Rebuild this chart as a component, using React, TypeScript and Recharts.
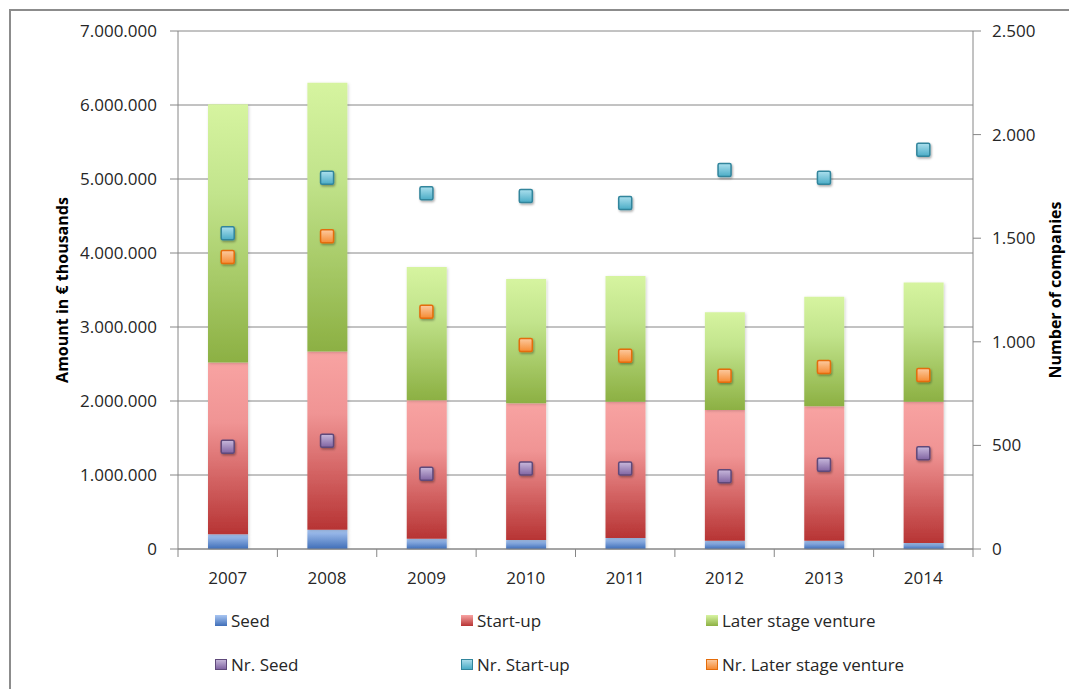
import { ComposedChart, Bar, Scatter, XAxis, YAxis, CartesianGrid, Legend, Label } from "recharts";

const years = ["2007", "2008", "2009", "2010", "2011", "2012", "2013", "2014"];
const seedAmount = [200000, 260000, 140000, 120000, 150000, 110000, 110000, 80000];
const startupAmount = [2320000, 2410000, 1870000, 1850000, 1840000, 1770000, 1820000, 1910000];
const laterAmount = [3490000, 3630000, 1800000, 1680000, 1700000, 1320000, 1480000, 1610000];
const nrSeed = [494, 523, 363, 388, 388, 351, 407, 462];
const nrStartup = [1524, 1792, 1717, 1704, 1670, 1829, 1792, 1927];
const nrLater = [1409, 1509, 1145, 985, 933, 836, 878, 840];
const amountTicks = [0, 1000000, 2000000, 3000000, 4000000, 5000000, 6000000, 7000000];
const countTicks = [0, 500, 1000, 1500, 2000, 2500];
const legendOrder = ["Seed", "Start-up", "Later stage venture", "Nr. Seed", "Nr. Start-up", "Nr. Later stage venture"];

const data = years.map((year, i) => ({
  year,
  seed: seedAmount[i],
  startup: startupAmount[i],
  later: laterAmount[i],
  nrSeed: nrSeed[i],
  nrStartup: nrStartup[i],
  nrLater: nrLater[i],
}));

const W = 1058;
const H = 678;
const PLOT_LEFT = 167;
const PLOT_RIGHT = 962;
const BAND = (PLOT_RIGHT - PLOT_LEFT) / years.length;
const AXIS = "#868686";
const TEXT = "#262626";
const FONT = "'Open Sans', sans-serif";

const dots = (v: number) => String(v).replace(/\B(?=(\d{3})+(?!\d))/g, ".");

const XTick = (props: any) => {
  const { x, y, payload, index } = props;
  const half = BAND / 2;
  return (
    <g>
      <line x1={x - half} x2={x - half} y1={y} y2={y + 8} stroke={AXIS} />
      {index === years.length - 1 && <line x1={x + half} x2={x + half} y1={y} y2={y + 8} stroke={AXIS} />}
      <text x={x} y={y + 35} textAnchor="middle" fontSize={17} fill={TEXT} fontFamily={FONT}>
        {payload.value}
      </text>
    </g>
  );
};

const makeMarker = (grad: string, stroke: string) => (props: any) => {
  const { cx, cy } = props;
  return (
    <rect x={cx - 6.5} y={cy - 6.5} width={13} height={13} rx={1.5} fill={`url(#${grad})`} stroke={stroke} strokeWidth={1.5} filter="url(#mshadow)" />
  );
};

const legendLook: Record<string, { bg: string; border: string }> = {
  Seed: { bg: "linear-gradient(#a9c6f2, #3f6eb8)", border: "none" },
  "Start-up": { bg: "linear-gradient(#f8a4a3, #b73434)", border: "none" },
  "Later stage venture": { bg: "linear-gradient(#d8f4a2, #8cb043)", border: "none" },
  "Nr. Seed": { bg: "linear-gradient(#c4b5d8, #8064a2)", border: "1px solid #5f497a" },
  "Nr. Start-up": { bg: "linear-gradient(#a8dcea, #4bacc6)", border: "1px solid #31859c" },
  "Nr. Later stage venture": { bg: "linear-gradient(#fbc89c, #f68b33)", border: "1px solid #e46c0a" },
};
const legendCols = [204, 450, 695];
const legendRows = [609, 653];

const LegendContent = (props: any) => {
  const items = [...(props.payload || [])].sort((a: any, b: any) => legendOrder.indexOf(a.value) - legendOrder.indexOf(b.value));
  return (
    <div style={{ position: "relative", width: W, height: 0 }}>
      {items.map((it: any, i: number) => {
        const look = legendLook[it.value] || { bg: it.color, border: "none" };
        return (
          <div
            key={it.value}
            style={{
              position: "absolute",
              left: legendCols[i % 3],
              top: legendRows[Math.floor(i / 3)] - 12,
              height: 24,
              display: "flex",
              alignItems: "center",
              whiteSpace: "nowrap",
              fontFamily: FONT,
              fontSize: 17,
              color: TEXT,
            }}
          >
            <span style={{ display: "inline-block", width: 12, height: 11, boxSizing: "border-box", background: look.bg, border: look.border, marginRight: 4 }} />
            {it.value}
          </div>
        );
      })}
    </div>
  );
};

export default function App() {
  return (
    <div style={{ position: "absolute", left: 9, top: 9, borderTop: "2px solid #8c8c8c", borderLeft: "2px solid #8c8c8c", width: W, height: H, background: "#fff" }}>
      <ComposedChart width={W} height={H} data={data} margin={{ top: 20, right: 0, left: 0, bottom: 110 }} style={{ fontFamily: FONT }}>
        <defs>
          <linearGradient id="gSeed" x1="0" y1="0" x2="0" y2="1">
            <stop offset="0%" stopColor="#a9c6f2" />
            <stop offset="100%" stopColor="#3f6eb8" />
          </linearGradient>
          <linearGradient id="gStart" x1="0" y1="0" x2="0" y2="1">
            <stop offset="0%" stopColor="#f8a3a2" />
            <stop offset="35%" stopColor="#f09494" />
            <stop offset="100%" stopColor="#b73434" />
          </linearGradient>
          <linearGradient id="gLater" x1="0" y1="0" x2="0" y2="1">
            <stop offset="0%" stopColor="#d6f4a0" />
            <stop offset="35%" stopColor="#c2e48c" />
            <stop offset="100%" stopColor="#8cb043" />
          </linearGradient>
          <linearGradient id="mSeed" x1="0" y1="0" x2="0" y2="1">
            <stop offset="0%" stopColor="#c8b9dc" />
            <stop offset="100%" stopColor="#8064a2" />
          </linearGradient>
          <linearGradient id="mStart" x1="0" y1="0" x2="0" y2="1">
            <stop offset="0%" stopColor="#ace0ee" />
            <stop offset="100%" stopColor="#4bacc6" />
          </linearGradient>
          <linearGradient id="mLater" x1="0" y1="0" x2="0" y2="1">
            <stop offset="0%" stopColor="#fccaa0" />
            <stop offset="100%" stopColor="#f68b33" />
          </linearGradient>
          <filter id="mshadow" x="-50%" y="-50%" width="200%" height="200%">
            <feDropShadow dx="1" dy="1.5" stdDeviation="1.2" floodColor="#000" floodOpacity="0.35" />
          </filter>
          <filter id="bshadow" x="-20%" y="-5%" width="140%" height="110%">
            <feDropShadow dx="1" dy="1" stdDeviation="1.5" floodColor="#000" floodOpacity="0.18" />
          </filter>
        </defs>
        <CartesianGrid yAxisId="left" vertical={false} stroke={AXIS} strokeWidth={1} />
        <XAxis dataKey="year" interval={0} tickLine={false} tickSize={0} tickMargin={0} height={30} axisLine={{ stroke: AXIS }} tick={<XTick />} />
        <YAxis
          yAxisId="left"
          width={PLOT_LEFT}
          domain={[0, 7000000]}
          ticks={amountTicks}
          tickFormatter={dots}
          tickSize={8}
          tickMargin={13}
          tick={{ fontSize: 17, fill: TEXT }}
          axisLine={{ stroke: AXIS }}
          tickLine={{ stroke: AXIS }}
        >
          <Label
            content={(p: any) => {
              const vb = p.viewBox;
              const cx = vb.x + 51;
              const cy = vb.y + vb.height / 2;
              return (
                <text x={cx} y={cy} transform={`rotate(-90 ${cx} ${cy})`} textAnchor="middle" dominantBaseline="central" fontSize={16} fontWeight="bold" fill="#000" fontFamily={FONT}>
                  Amount in € thousands
                </text>
              );
            }}
          />
        </YAxis>
        <YAxis
          yAxisId="right"
          orientation="right"
          width={W - PLOT_RIGHT}
          domain={[0, 2500]}
          ticks={countTicks}
          tickFormatter={dots}
          tickSize={8}
          tickMargin={11}
          tick={{ fontSize: 17, fill: TEXT }}
          axisLine={{ stroke: AXIS }}
          tickLine={{ stroke: AXIS }}
        >
          <Label
            content={(p: any) => {
              const vb = p.viewBox;
              const cx = vb.x + 82;
              const cy = vb.y + vb.height / 2;
              return (
                <text x={cx} y={cy} transform={`rotate(-90 ${cx} ${cy})`} textAnchor="middle" dominantBaseline="central" fontSize={16} fontWeight="bold" fill="#000" fontFamily={FONT}>
                  Number of companies
                </text>
              );
            }}
          />
        </YAxis>
        <Legend verticalAlign="top" wrapperStyle={{ position: "absolute", left: 0, top: 0, width: W, height: 0 }} content={<LegendContent />} />
        <Bar yAxisId="left" dataKey="seed" name="Seed" stackId="a" barSize={40} fill="url(#gSeed)" filter="url(#bshadow)" isAnimationActive={false} />
        <Bar yAxisId="left" dataKey="startup" name="Start-up" stackId="a" barSize={40} fill="url(#gStart)" filter="url(#bshadow)" isAnimationActive={false} />
        <Bar yAxisId="left" dataKey="later" name="Later stage venture" stackId="a" barSize={40} fill="url(#gLater)" filter="url(#bshadow)" isAnimationActive={false} />
        <Scatter yAxisId="right" dataKey="nrSeed" name="Nr. Seed" fill="#8064a2" shape={makeMarker("mSeed", "#5f497a")} isAnimationActive={false} />
        <Scatter yAxisId="right" dataKey="nrStartup" name="Nr. Start-up" fill="#4bacc6" shape={makeMarker("mStart", "#31859c")} isAnimationActive={false} />
        <Scatter yAxisId="right" dataKey="nrLater" name="Nr. Later stage venture" fill="#f79646" shape={makeMarker("mLater", "#e46c0a")} isAnimationActive={false} />
      </ComposedChart>
    </div>
  );
}
